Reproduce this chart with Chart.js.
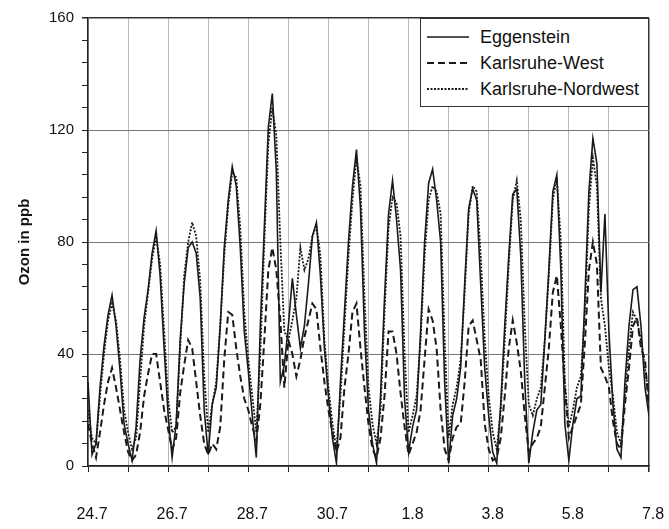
<!DOCTYPE html>
<html>
<head>
<meta charset="utf-8">
<script src="https://cdn.jsdelivr.net/npm/chart.js@4.4.0/dist/chart.umd.min.js"></script>
<style>
  body { margin: 0; background: #fff; }
  #wrap { position: relative; width: 669px; height: 529px; }
  #legend {
    position: absolute; left: 420px; top: 18px; width: 229px; height: 89px;
    box-sizing: border-box; border: 1.5px solid #333; background: #fff;
    padding-top: 5px; font-family: "Liberation Sans", Arial, sans-serif; font-size: 18px; color: #111;
  }
  .row { display: flex; align-items: center; height: 26px; }
  .row svg { margin-left: 6px; margin-right: 11px; }
</style>
</head>
<body>
<div id="wrap">
  <canvas id="ozoneChart" width="669" height="529"></canvas>
  <div id="legend"></div>
</div>
<script>
// =====================================
// DATA (ozone in ppb, one value every 0.1 day from 24.7)
// =====================================
const STEP = 0.1;
const dayLabels = ["24.7", "26.7", "28.7", "30.7", "1.8", "3.8", "5.8", "7.8"];

const eggenstein = [
  30, 4, 8, 28, 43, 54, 61, 50, 34, 15,
  8, 2, 14, 38, 53, 63, 76, 84, 68, 42,
  18, 3, 15, 45, 65, 78, 80, 76, 60, 20,
  4, 22, 28, 50, 78, 95, 107, 100, 78, 48,
  34, 18, 3, 50, 85, 121, 133, 105, 30, 36,
  50, 67, 54, 42, 50, 65, 82, 87, 68, 42,
  25, 10, 1, 30, 55, 80, 100, 113, 92, 48,
  20, 8, 1, 25, 60, 90, 102, 88, 70, 24,
  5, 14, 20, 48, 80, 101, 106, 95, 80, 30,
  1, 18, 24, 35, 65, 92, 99, 95, 65, 35,
  18, 5, 1, 22, 50, 75, 97, 99, 75, 30,
  1, 12, 20, 22, 45, 70, 98, 104, 70, 15,
  2, 15, 24, 25, 60, 98, 117, 108, 62, 90,
  48, 22, 6, 3, 30, 50, 63, 64, 50, 28, 18
];

const karlsruheWest = [
  15, 8, 3, 12, 22, 30, 35, 28, 20, 12,
  5, 2, 4, 12, 25, 33, 40, 40, 30, 20,
  13, 6, 10, 26, 36, 45, 42, 30, 18, 8,
  4, 8, 6, 14, 38, 55, 54, 42, 32, 24,
  20, 14, 9, 22, 45, 70, 78, 70, 52, 28,
  45, 40, 32, 38, 46, 52, 58, 56, 42, 30,
  20, 12, 5, 10, 28, 40, 55, 58, 42, 28,
  15, 6, 3, 10, 25, 48, 48, 40, 26, 14,
  4, 8, 12, 20, 38, 56, 52, 42, 20, 6,
  2, 10, 14, 15, 30, 50, 52, 45, 38, 15,
  6, 2, 3, 10, 25, 42, 52, 44, 34, 18,
  5, 8, 10, 14, 28, 42, 62, 68, 50, 28,
  10, 14, 18, 22, 44, 70, 80, 72, 35, 32,
  28, 16, 8, 6, 22, 35, 50, 53, 42, 38, 20
];

const karlsruheNordwest = [
  20, 10, 8, 25, 40, 52, 58, 52, 38, 20,
  12, 6, 10, 30, 50, 62, 74, 82, 72, 48,
  24, 12, 14, 42, 68, 80, 87, 82, 66, 32,
  12, 22, 30, 50, 75, 93, 105, 103, 85, 55,
  38, 25, 12, 40, 80, 115, 128, 118, 80, 48,
  45, 52, 60, 78, 70, 74, 82, 86, 75, 45,
  28, 15, 6, 25, 50, 75, 95, 110, 100, 60,
  28, 15, 8, 20, 55, 85, 96, 94, 82, 40,
  12, 18, 25, 45, 75, 95, 100, 98, 90, 45,
  10, 22, 28, 38, 62, 90, 100, 98, 75, 45,
  25, 12, 6, 20, 45, 72, 95, 102, 88, 50,
  22, 18, 24, 28, 45, 68, 95, 103, 80, 30,
  14, 20, 28, 32, 55, 92, 110, 100, 60, 50,
  35, 25, 12, 8, 25, 42, 55, 52, 45, 35, 25
];

const seriesNames = ["Eggenstein", "Karlsruhe-West", "Karlsruhe-Nordwest"];
const FONT = "'Liberation Sans', Arial, sans-serif";

// =====================================
// HELPERS
// =====================================
function toPoints(values) {
  return values.map((v, i) => ({ x: +(i * STEP).toFixed(1), y: v }));
}

// =====================================
// CHART
// =====================================
const chartCanvas = document.getElementById("ozoneChart");

const chartInstance = new Chart(chartCanvas, {
  type: "line",
  data: {
    datasets: [
      {
        label: seriesNames[0],
        data: toPoints(eggenstein),
        borderColor: "#1a1a1a",
        borderWidth: 1.6,
        pointRadius: 0,
        tension: 0
      },
      {
        label: seriesNames[1],
        data: toPoints(karlsruheWest),
        borderColor: "#1a1a1a",
        borderWidth: 2,
        borderDash: [7, 4],
        pointRadius: 0,
        tension: 0
      },
      {
        label: seriesNames[2],
        data: toPoints(karlsruheNordwest),
        borderColor: "#1a1a1a",
        borderWidth: 1.8,
        borderDash: [2, 1.5],
        pointRadius: 0,
        tension: 0
      }
    ]
  },
  options: {
    responsive: false,
    animation: false,
    layout: { padding: { top: 18, right: 20, left: 0, bottom: 0 } },
    plugins: {
      legend: { display: false },
      tooltip: { enabled: false }
    },
    scales: {
      x: {
        type: "linear",
        min: 0,
        max: 14,
        ticks: {
          stepSize: 1,
          autoSkip: false,
          maxRotation: 0,
          padding: 33,
          labelOffset: 4,
          color: "#111",
          font: { family: FONT, size: 16 },
          callback: v => (v % 2 === 0 ? dayLabels[v / 2] : "")
        },
        grid: {
          color: c => (c.tick && c.tick.value === 14 ? "#333" : "#b8b8b8"),
          lineWidth: c => (c.tick && c.tick.value === 14 ? 1.5 : 1),
          tickLength: 6,
          tickColor: "#222"
        },
        border: { color: "#222", width: 1.5 },
        afterFit: s => {
          s.height = 63;
          s.paddingLeft = 0;
          s.paddingRight = 0;
        }
      },
      y: {
        min: 0,
        max: 160,
        ticks: {
          stepSize: 8,
          autoSkip: false,
          padding: 8,
          color: "#111",
          font: { family: FONT, size: 15 },
          callback: v => (v % 40 === 0 ? v : "")
        },
        grid: {
          color: c => {
            if (!c.tick) return "transparent";
            if (c.tick.value === 160) return "#333";
            return c.tick.value % 40 === 0 ? "#777" : "transparent";
          },
          lineWidth: c => (c.tick && c.tick.value === 160 ? 1.5 : 1),
          tickLength: 6,
          tickColor: "#222"
        },
        border: { color: "#222", width: 1.5 },
        title: {
          display: true,
          text: "Ozon in ppb",
          color: "#111",
          font: { family: FONT, size: 15, weight: "bold" },
          padding: { top: 16, bottom: 0 }
        },
        afterFit: s => {
          s.width = 88;
          s.paddingTop = 0;
          s.paddingBottom = 0;
        }
      }
    }
  }
});

// =====================================
// LEGEND (boxed, top right)
// =====================================
const legendBox = document.getElementById("legend");
chartInstance.data.datasets.forEach(ds => {
  const row = document.createElement("div");
  row.className = "row";
  const dash = ds.borderDash ? ds.borderDash.join(",") : "none";
  row.innerHTML =
    `<svg width="42" height="6"><line x1="0" y1="3" x2="42" y2="3" stroke="#1a1a1a" ` +
    `stroke-width="${ds.borderWidth}" stroke-dasharray="${dash}"/></svg><span>${ds.label}</span>`;
  legendBox.appendChild(row);
});
</script>
</body>
</html>
